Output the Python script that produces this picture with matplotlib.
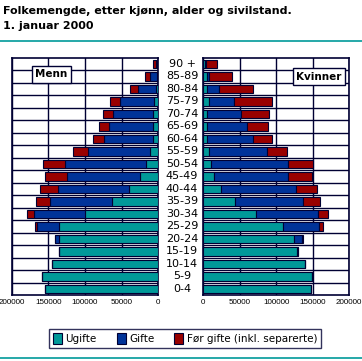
import matplotlib
matplotlib.use("Agg")
import matplotlib.pyplot as plt
import matplotlib.patches as pat
import numpy as np

# data (top row first)
ages = ["90 +", "85-89", "80-84", "75-79", "70-74", "65-69", "60-64", "55-59",
        "50-54", "45-49", "40-44", "35-39", "30-34", "25-29", "20-24",
        "15-19", "10-14", "5-9", "0-4"]

men_ugifte = [700, 1800, 2300, 5000, 6400, 6400, 6400, 10500, 16000, 24200,
              39300, 62600, 100500, 136100, 136100, 135000, 144800, 158500, 154300]
men_gifte = [1500, 8700, 24700, 46600, 54800, 60300, 67100, 84900, 111000, 100900,
             98200, 85800, 69000, 29200, 4400, 200, 0, 0, 0]
men_for = [4200, 6800, 11000, 13700, 13700, 13700, 15100, 20600, 30100, 29200,
           23700, 18300, 9600, 2700, 300, 0, 0, 0, 0]

women_ugifte = [2800, 4600, 5500, 7300, 5500, 4600, 4600, 7300, 10100, 14200,
                24700, 43000, 71900, 109800, 125000, 129000, 139100, 149700, 147400]
women_gifte = [800, 3700, 15600, 34300, 45800, 54900, 63200, 79600, 105700, 101600,
               102100, 93400, 85100, 49400, 11000, 500, 0, 0, 0]
women_for = [15600, 31600, 47600, 52200, 39400, 29800, 26100, 28400, 35200, 33000,
             29800, 24300, 14600, 5500, 1000, 0, 0, 0, 0]

series_names = ["Ugifte", "Gifte", "Før gifte (inkl. separerte)"]
x_ticks = [0, 50000, 100000, 150000, 200000]

# style
c_ugifte = "#009999"
c_gifte = "#003399"
c_for = "#990000"
colors = [c_ugifte, c_gifte, c_for]
line_col = "#000033"
rule_col = "#009999"
bar_h = 0.68
W, H = 362, 361

fig = plt.figure(figsize=(W / 100, H / 100), dpi=100)


def px_box(x0, y0, x1, y1):
    return [x0 / W, 1 - y1 / H, (x1 - x0) / W, (y1 - y0) / H]


def draw_panel(ax, parts, invert):
    n = len(ages)
    y = np.arange(n)[::-1]
    left = np.zeros(n)
    for vals, col in zip(parts, colors):
        ax.barh(y, vals, left=left, height=bar_h, color=col,
                edgecolor=line_col, linewidth=0.8, zorder=3)
        left = left + np.array(vals)
    ax.set_ylim(-0.5, n - 0.5)
    ax.set_xlim(0, 200000)
    if invert:
        ax.invert_xaxis()
    ax.set_xticks(x_ticks)
    ax.set_xticklabels([str(t) for t in x_ticks], fontsize=5.8,
                       family="Liberation Sans")
    ax.set_yticks([])
    ax.set_yticks(np.arange(n - 1) + 0.5, minor=True)
    ax.tick_params(axis="y", which="both", length=0)
    ax.tick_params(axis="x", length=0, pad=3)
    ax.grid(True, which="minor", axis="y", color=line_col, linewidth=1.0, zorder=1)
    ax.grid(True, which="major", axis="x", color=line_col, linewidth=1.0, zorder=1)
    for s in ax.spines.values():
        s.set_color(line_col)
        s.set_linewidth(1.2)


ax_m = fig.add_axes(px_box(12, 57.5, 158, 295))
ax_k = fig.add_axes(px_box(203.3, 57.5, 349, 295))
draw_panel(ax_m, [men_ugifte, men_gifte, men_for], True)
draw_panel(ax_k, [women_ugifte, women_gifte, women_for], False)

# age labels between the panels
for i, a in enumerate(ages):
    yy = 57.5 + (i + 0.5) * 237.5 / len(ages)
    fig.text(182 / W, 1 - yy / H, a, ha="center", va="center", fontsize=8)

# panel labels
ax_m.text(0.16, 0.95, "Menn", transform=ax_m.transAxes, ha="left", va="top",
          fontsize=7.5, fontweight="bold", zorder=5,
          bbox=dict(facecolor="white", edgecolor=line_col, linewidth=1.0, pad=2.5))
ax_k.text(0.95, 0.94, "Kvinner", transform=ax_k.transAxes, ha="right", va="top",
          fontsize=7.5, fontweight="bold", zorder=5,
          bbox=dict(facecolor="white", edgecolor=line_col, linewidth=1.0, pad=2.5))

# title
fig.text(3 / W, 1 - 11 / H, "Folkemengde, etter kjønn, alder og sivilstand.",
         ha="left", va="center", fontsize=8, fontweight="bold")
fig.text(3 / W, 1 - 26 / H, "1. januar 2000", ha="left", va="center",
         fontsize=8, fontweight="bold")

# teal rules at top and bottom
fig.add_artist(plt.Line2D([0, 1], [1 - 40.5 / H] * 2, color=rule_col, linewidth=1.2))
fig.add_artist(plt.Line2D([0, 1], [1 - 358 / H] * 2, color=rule_col, linewidth=1.2))

# legend
handles = [pat.Patch(facecolor=c, edgecolor=line_col, linewidth=0.8) for c in colors]
leg = fig.legend(handles, series_names, loc="center", ncol=3,
                 bbox_to_anchor=(185 / W, 1 - 338.5 / H), fontsize=7.5,
                 frameon=True, fancybox=False, handlelength=0.9, handleheight=1.2,
                 handletextpad=0.3, columnspacing=1.9, borderpad=0.35,
                 borderaxespad=0)
leg.get_frame().set_edgecolor(line_col)
leg.get_frame().set_linewidth(1.0)

fig.savefig("out.png", dpi=100)
